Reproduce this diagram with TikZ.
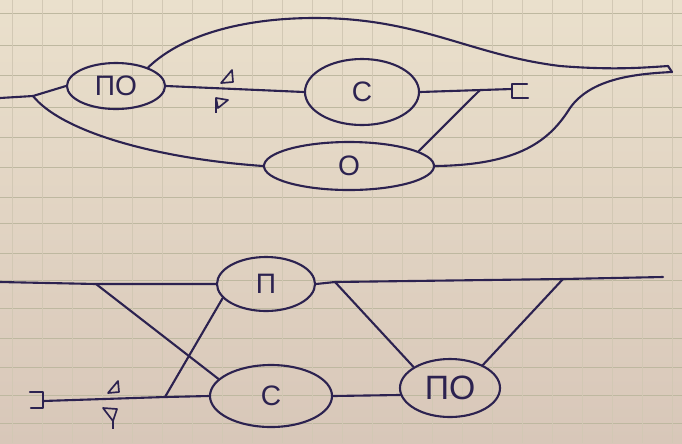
\documentclass[tikz,border=0pt]{standalone}
\usepackage{fontspec}
\setmainfont{Liberation Sans}
\usepackage{tikz}
\usetikzlibrary{shapes,positioning}
\definecolor{ink}{RGB}{44,34,80}
\definecolor{paperA}{RGB}{234,224,204}
\definecolor{paperB}{RGB}{216,199,185}
\definecolor{gridh}{RGB}{190,184,160}
\definecolor{gridv}{RGB}{210,200,180}
\tikzstyle{park} = [ellipse,draw=ink,line width=1.5pt,inner sep=0pt,text=ink,font=\fontsize{20}{24}\selectfont]
\tikzstyle{track} = [draw=ink,line width=1.5pt,line cap=round,line join=round]
\tikzstyle{sig} = [draw=ink,line width=1.2pt,line join=round]

\begin{document}
\begin{tikzpicture}[x=0.025cm, y=-0.025cm]
% Paper
\useasboundingbox (0,0) rectangle (682,443);
\shade[top color=paperA, bottom color=paperB] (0,0) rectangle (682,443);
\foreach \gy in {13,45,75,107,137,167,197,223,253,280,308,338,367,395,423}
  \draw[gridh, line width=0.5pt] (0,\gy) -- (682,\gy);
\foreach \gx in {12,42,...,672}
  \draw[gridv, line width=0.4pt] (\gx,0) -- (\gx,443);

% Upper scheme: parks
\node[park, minimum width=2.45cm, minimum height=1.15cm] (po1) at (116,86) {ПО};
\node[park, minimum width=2.85cm, minimum height=1.65cm] (c1) at (362,92) {С};
\node[park, minimum width=4.25cm, minimum height=1.2cm] (o1) at (349,166) {О};

\coordinate (inA) at (0,98);
\coordinate (forkA) at (33,96);
\coordinate (stopA) at (512,89);
\coordinate (jA) at (480,90);
\coordinate (tipA) at (668,66);
\coordinate (tipB) at (672,72);

% Upper scheme: tracks
\draw[track] (inA) -- (forkA) -- (po1.west);
\draw[track] (forkA) .. controls (60,130) and (150,158) .. (o1.west);
\draw[track] (po1.east) -- (c1.west);
\draw[track] (c1.east) -- (stopA);
\draw[track] (jA) -- (o1.12);
\draw[track] (po1.30) .. controls (185,32) and (250,18) .. (315,18)
  .. controls (420,18) and (470,55) .. (560,66)
  .. controls (610,70) and (640,68) .. (tipA);
\draw[track] (o1.east) .. controls (520,165) and (550,140) .. (570,108)
  .. controls (590,80) and (630,74) .. (tipB);
\draw[track] (tipA) -- (tipB);
\draw[track] (stopA) ++(15,-5) -- ++(-15,0) -- ++(0,14) -- ++(16,0);

% Signs
\draw[sig] (221,83) -- (232,70) -- (233,82) -- cycle;
\draw[sig] (216,98) -- (228,100) -- (218,108) -- cycle;
\draw[sig] (216,98) -- (216,113);

% Lower scheme: parks
\node[park, minimum width=2.45cm, minimum height=1.35cm] (p2) at (266,284) {П};
\node[park, minimum width=3.05cm, minimum height=1.55cm] (c2) at (271,396) {С};
\node[park, minimum width=2.5cm, minimum height=1.45cm, font=\fontsize{24}{28}\selectfont] (po2) at (450,388) {ПО};

\coordinate (inB) at (0,282);
\coordinate (jB1) at (96,284);
\coordinate (jB2) at (335,282);
\coordinate (jB3) at (563,279);
\coordinate (outB) at (663,277);
\coordinate (stopB) at (43,401);
\coordinate (jB4) at (165,397);

% Lower scheme: tracks
\draw[track] (inB) -- (jB1) -- (p2.west);
\draw[track] (p2.east) -- (jB2) -- (jB3) -- (outB);
\draw[track] (jB1) -- (c2.162);
\draw[track] (p2.198) -- (jB4);
\draw[track] (stopB) -- (jB4) -- (c2.west);
\draw[track] (c2.east) -- (po2.188);
\draw[track] (jB2) -- (po2.150);
\draw[track] (jB3) -- (po2.35);
\draw[track] (stopB) ++(-13,-9) -- ++(13,0) -- ++(0,16) -- ++(-12,0);

% Signs
\draw[sig] (118,381) -- (108,393) -- (119,392) -- cycle;
\draw[sig] (103,408) -- (117,409) -- (113,421) -- cycle;
\draw[sig] (113,421) -- (113,429);
\end{tikzpicture}
\end{document}
